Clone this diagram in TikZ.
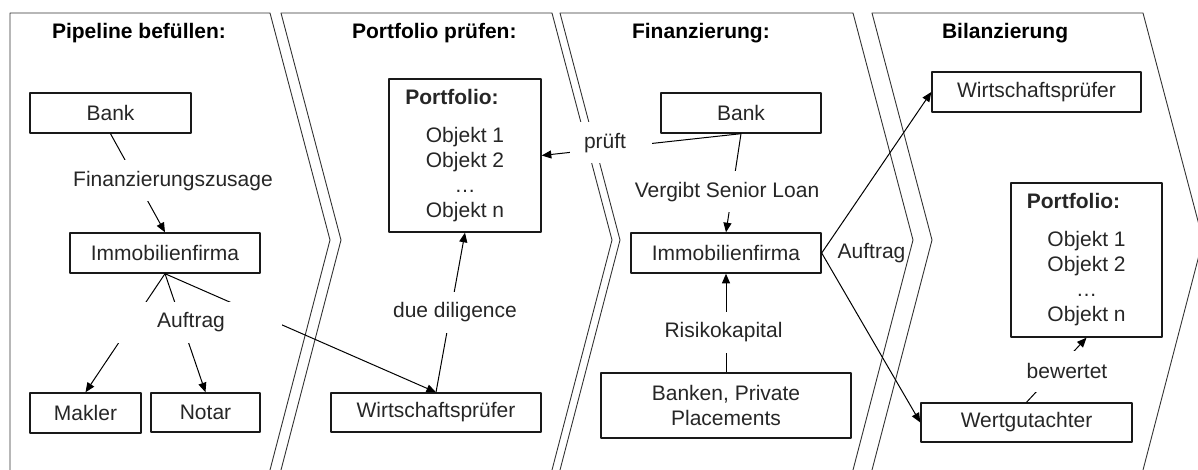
\documentclass[tikz,border=0pt]{standalone}
\usepackage{fontspec}
\setmainfont{Liberation Sans}
\usetikzlibrary{arrows.meta}
\begin{document}
\begin{tikzpicture}[x=.5pt,y=-.5pt,line join=round,
  font=\fontsize{10.5}{12.5}\selectfont,
  phase/.style={draw=black!80,line width=.45pt},
  box/.style={draw=black!90,line width=.7pt,text=black!85,inner sep=0pt},
  lbl/.style={fill=white,text=black!85,inner xsep=7pt,inner ysep=0pt,minimum height=20.5pt},
  ttl/.style={anchor=west,font=\fontsize{10.5}{12.5}\selectfont\bfseries},
  pfeil/.style={line width=.5pt,-{Triangle[length=4.8pt,width=4pt]}}]
\useasboundingbox (0,0) rectangle (1198,470);
\draw[phase](10,470)--(10,13)--(270,13)--(330,240)--(270,470);
\draw[phase](281,470)--(341,240)--(281,13)--(552,13)--(612,240)--(552,470);
\draw[phase](560,470)--(620,240)--(560,13)--(853,13)--(913,240)--(853,470);
\draw[phase](872,470)--(932,240)--(872,13)--(1143,13)--(1203,240)--(1143,470);
\node[ttl] (t1) at (45,33) {Pipeline befüllen:};
\node[ttl] (t2) at (345,33) {Portfolio prüfen:};
\node[ttl] (t3) at (625,33) {Finanzierung:};
\node[ttl] (t4) at (935,33) {Bilanzierung};
\node[box,minimum width=80.5pt,minimum height=20pt] (bank1) at (110.5,113) {Bank};
\node[box,minimum width=95pt,minimum height=20pt] (imm1) at (165,253) {Immobilienfirma};
\node[box,minimum width=55.5pt,minimum height=20pt] (makler) at (85.5,413) {Makler};
\node[box,minimum width=54.5pt,minimum height=19.5pt] (notar) at (205.5,412.5) {Notar};
\node[box,minimum width=76pt,minimum height=76.5pt,align=center] (pf2) at (465,155.5) {\textbf{Portfolio:}\kern13pt\\[6.5pt]Objekt 1\\Objekt 2\\\dots\\Objekt n};
\node[box,minimum width=105pt,minimum height=19.5pt] (wp2) at (436,412.5) {Wirtschaftsprüfer};
\node[box,minimum width=80pt,minimum height=20pt] (bank3) at (741,113) {Bank};
\node[box,minimum width=95pt,minimum height=20pt] (imm3) at (726,253) {Immobilienfirma};
\node[box,minimum width=125pt,minimum height=32.5pt,align=center] (banken) at (726,405.5) {Banken, Private\\Placements};
\node[box,minimum width=104.5pt,minimum height=20pt] (wp4) at (1036.5,92) {Wirtschaftsprüfer};
\node[box,minimum width=75.5pt,minimum height=77pt,align=center] (pf4) at (1086.5,260) {\textbf{Portfolio:}\kern13pt\\[6.5pt]Objekt 1\\Objekt 2\\\dots\\Objekt n};
\node[box,minimum width=105.5pt,minimum height=19.5pt] (wg) at (1026.5,422.5) {Wertgutachter};
\draw[pfeil](bank1.south)--(imm1.north);
\draw[pfeil](imm1.south)--(makler.north);
\draw[pfeil](imm1.south)--(notar.north);
\draw[pfeil](imm1.south)--(wp2.north);
\draw[pfeil](wp2.north)--(pf2.south);
\draw[pfeil](bank3.south)--(pf2.east);
\draw[pfeil](bank3.south)--(imm3.north);
\draw[pfeil](banken.north)--(imm3.south);
\draw[pfeil](imm3.east)--(wp4.west);
\draw[pfeil](imm3.east)--(wg.west);
\draw[pfeil](wg.north)--(pf4.south);
\node[lbl] (fz) at (173,181) {Finanzierungszusage};
\node[lbl,minimum width=85pt,inner xsep=0pt] (auf1) at (197,322.5) {Auftrag\kern6pt};
\node[lbl] (dd) at (455,312.5) {due diligence};
\node[lbl,text width=27pt,align=left] (pr) at (611,143) {prüft};
\node[lbl] (vsl) at (727,192) {Vergibt Senior Loan};
\node[lbl] (rk) at (723.5,332) {Risikokapital};
\node[text=black!85,inner sep=1pt] (auf3) at (871.5,253) {Auftrag};
\node[lbl] (bw) at (1067,371) {bewertet};
\end{tikzpicture}
\end{document}
